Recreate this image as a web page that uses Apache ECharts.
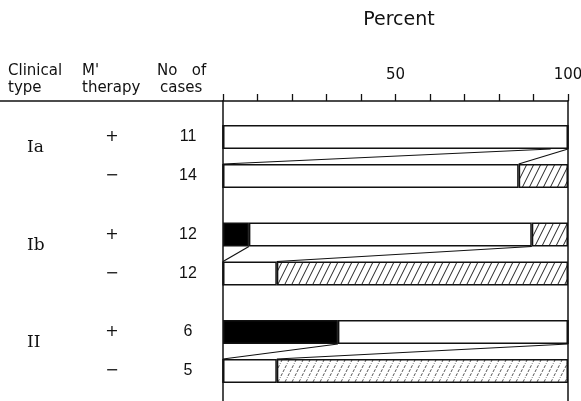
<!DOCTYPE html>
<html><head><meta charset="utf-8">
<script src="https://cdn.jsdelivr.net/npm/echarts@6/dist/echarts.min.js"></script>
<style>html,body{margin:0;padding:0;background:#fff}#c{width:581px;height:401px}</style>
</head><body><div id="c"></div>
<script>
// ---- data ----
const clinicalTypes = ['Ia', 'Ib', 'II'];
const therapy = ['+', '\u2212', '+', '\u2212', '+', '\u2212'];
const cases = [11, 14, 12, 12, 6, 5];
const blackPct = [0, 0, 7.5, 0, 33.3, 0];
const whitePct = [100, 85.7, 82, 15.6, 66.7, 15.6];
const hatchPct = [0, 14.3, 10.5, 84.4, 0, 84.4];
const labelledTicks = [50, 100];
// connector lines between the + and - bar of each clinical type: [upper end, lower end]
const linkUpper = [[95, 100], [7.5, 89.5], [33.3, 100]];
const linkLower = [[0, 85.7], [0, 15.6], [0, 15.6]];

// ---- layout ----
const SLOT_COUNT = 15;
const ROW_SLOT = [1, 3, 6, 8, 11, 13];
const TYPE_SLOT = [2, 7, 12];
const BAR_H = 24;
const INK = '#111';

const slotKeys = Array.from({length: SLOT_COUNT}, (_, i) => 's' + i);
function toSlots(arr) {
  const out = Array(SLOT_COUNT).fill('-');
  ROW_SLOT.forEach((s, i) => { out[s] = arr[i]; });
  return out;
}
function hatch(color, dash) {
  const c = document.createElement('canvas');
  c.width = 7; c.height = 14;
  const g = c.getContext('2d');
  g.fillStyle = '#fff'; g.fillRect(0, 0, 7, 14);
  g.strokeStyle = color; g.lineWidth = 1;
  if (dash) g.setLineDash(dash);
  g.beginPath();
  [-7, 0, 7].forEach(k => { g.moveTo(-1 + k, 16); g.lineTo(8 + k, -2); });
  g.stroke();
  return c;
}
const hatchA = {image: hatch('#222'), repeat: 'repeat'};
const hatchB = {image: hatch('#555', [3, 1.5]), repeat: 'repeat'};

const hatchData = toSlots(hatchPct).map((v, i) => {
  if (v === '-') return v;
  const row = ROW_SLOT.indexOf(i);
  return row === 5 ? {value: v, itemStyle: {color: hatchB}} : v;
});

const linkData = [];
linkUpper.forEach((pair, p) => {
  pair.forEach((u, j) => {
    linkData.push([u, linkLower[p][j], ROW_SLOT[2 * p], ROW_SLOT[2 * p + 1]]);
  });
});

const chart = echarts.init(document.getElementById('c'), null, {renderer: 'canvas'});
const barStyle = (fill) => ({color: fill, borderColor: INK, borderWidth: 1.5});

chart.setOption({
  animation: false,
  backgroundColor: '#fff',
  grid: [
    {left: 223, right: 13, top: 101, height: 305, containLabel: false, outerBoundsMode: 'none'},
    {left: 223, right: 13, top: 107.75, height: 292.5, containLabel: false, outerBoundsMode: 'none'}
  ],
  xAxis: [
    {
      gridIndex: 0, type: 'value', position: 'top', min: 0, max: 100, interval: 10,
      axisLine: {show: true, onZero: false, lineStyle: {color: INK, width: 1.5}},
      axisTick: {show: true, length: 7, lineStyle: {color: INK, width: 1.3}},
      splitLine: {show: false},
      axisLabel: {
        margin: 18, color: INK, fontFamily: 'DejaVu Sans', fontSize: 15,
        formatter: v => labelledTicks.includes(v) ? String(v) : ''
      },
      name: 'Percent', nameLocation: 'middle', nameGap: 71,
      nameTextStyle: {color: INK, fontFamily: 'DejaVu Sans', fontSize: 19, padding: [0, 0, 0, 7]}
    },
    {gridIndex: 1, type: 'value', min: 0, max: 100, show: false}
  ],
  yAxis: [
    {gridIndex: 0, type: 'value', min: 0, max: 1, position: 'left',
      axisLine: {show: true, onZero: false, lineStyle: {color: INK, width: 1.5}},
      axisTick: {show: false}, axisLabel: {show: false}, splitLine: {show: false}},
    {gridIndex: 0, type: 'value', min: 0, max: 1, position: 'right',
      axisLine: {show: true, onZero: false, lineStyle: {color: INK, width: 1.5}},
      axisTick: {show: false}, axisLabel: {show: false}, splitLine: {show: false}},
    {gridIndex: 1, type: 'category', data: slotKeys, inverse: true, position: 'left',
      axisLine: {show: false}, axisTick: {show: false}, splitLine: {show: false},
      axisLabel: {interval: 0, margin: 35, align: 'center', color: INK,
        fontFamily: 'Liberation Sans', fontSize: 16,
        formatter: (v, i) => { const r = ROW_SLOT.indexOf(i); return r >= 0 ? String(cases[r]) : ''; }}},
    {gridIndex: 1, type: 'category', data: slotKeys, inverse: true, position: 'left',
      axisLine: {show: false}, axisTick: {show: false}, splitLine: {show: false},
      axisLabel: {interval: 0, margin: 111, align: 'center', color: INK,
        fontFamily: 'DejaVu Sans', fontSize: 16,
        formatter: (v, i) => { const r = ROW_SLOT.indexOf(i); return r >= 0 ? therapy[r] : ''; }}},
    {gridIndex: 1, type: 'category', data: slotKeys, inverse: true, position: 'left',
      axisLine: {show: false}, axisTick: {show: false}, splitLine: {show: false},
      axisLabel: {interval: 0, margin: 196, align: 'left', verticalAlign: 'bottom', color: INK,
        fontFamily: 'DejaVu Serif', fontSize: 17,
        formatter: (v, i) => { const r = TYPE_SLOT.indexOf(i); return r >= 0 ? clinicalTypes[r] : ''; }}}
  ],
  graphic: [
    {type: 'line', shape: {x1: 0, y1: 101, x2: 223, y2: 101}, style: {stroke: INK, lineWidth: 1.5}},
    {type: 'text', style: {text: 'Clinical', x: 8, y: 71, font: '15px "DejaVu Sans"', fill: INK, verticalAlign: 'middle'}},
    {type: 'text', style: {text: 'type', x: 8, y: 88, font: '15px "DejaVu Sans"', fill: INK, verticalAlign: 'middle'}},
    {type: 'text', style: {text: "M'", x: 82, y: 71, font: '15px "DejaVu Sans"', fill: INK, verticalAlign: 'middle'}},
    {type: 'text', style: {text: 'therapy', x: 82, y: 88, font: '15px "DejaVu Sans"', fill: INK, verticalAlign: 'middle'}},
    {type: 'text', style: {text: 'No   of', x: 157, y: 71, font: '15px "DejaVu Sans"', fill: INK, verticalAlign: 'middle'}},
    {type: 'text', style: {text: 'cases', x: 160, y: 88, font: '15px "DejaVu Sans"', fill: INK, verticalAlign: 'middle'}}
  ],
  series: [
    {type: 'bar', name: 'black', stack: 'a', xAxisIndex: 1, yAxisIndex: 2, barWidth: BAR_H,
      data: toSlots(blackPct), itemStyle: barStyle('#000')},
    {type: 'bar', name: 'white', stack: 'a', xAxisIndex: 1, yAxisIndex: 2, barWidth: BAR_H,
      data: toSlots(whitePct), itemStyle: barStyle('#fff')},
    {type: 'bar', name: 'hatched', stack: 'a', xAxisIndex: 1, yAxisIndex: 2, barWidth: BAR_H,
      data: hatchData, itemStyle: barStyle(hatchA)},
    {type: 'custom', name: 'links', xAxisIndex: 1, yAxisIndex: 2, data: linkData,
      encode: {x: [0, 1], y: [2, 3]},
      renderItem: (params, api) => {
        const a = api.coord([api.value(0), api.value(2)]);
        const b = api.coord([api.value(1), api.value(3)]);
        return {type: 'line', shape: {x1: a[0], y1: a[1] + BAR_H / 2, x2: b[0], y2: b[1] - BAR_H / 2},
          style: {stroke: INK, lineWidth: 1.2}};
      }}
  ]
});
</script></body></html>
